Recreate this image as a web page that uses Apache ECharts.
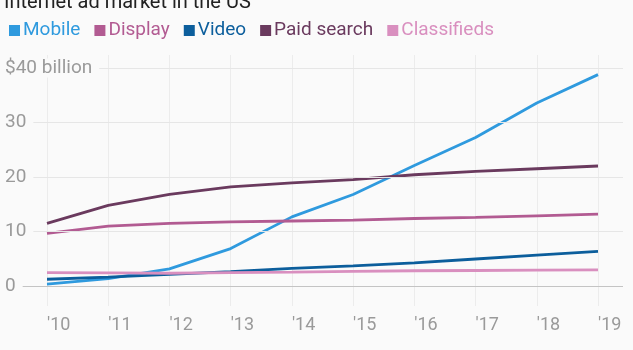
<!DOCTYPE html>
<html><head><meta charset="utf-8">
<script src="https://cdn.jsdelivr.net/npm/echarts@6/dist/echarts.min.js"></script>
<style>html,body{margin:0;padding:0;background:#fafafa;}#c{width:633px;height:350px;}</style>
</head><body><div id="c"></div>
<script>
const years = ["'10","'11","'12","'13","'14","'15","'16","'17","'18","'19"];
const mobile = [0.5, 1.5, 3.3, 7.0, 12.8, 16.9, 22.2, 27.3, 33.6, 38.8];
const display = [9.8, 11.1, 11.6, 11.9, 12.05, 12.2, 12.5, 12.7, 13.0, 13.3];
const video = [1.4, 1.8, 2.3, 2.8, 3.4, 3.85, 4.4, 5.1, 5.8, 6.5];
const paidSearch = [11.6, 14.9, 16.9, 18.3, 19.0, 19.6, 20.5, 21.1, 21.6, 22.1];
const classifieds = [2.6, 2.55, 2.5, 2.6, 2.7, 2.85, 2.95, 3.0, 3.05, 3.1];
const yTickLabels = {0:'0',10:'10',20:'20',30:'30',40:'$40 billion'};

const colors = {Mobile:'#2f9ade', Display:'#b25b92', Video:'#0c5e9c', 'Paid search':'#6a3a5e', Classifieds:'#d98fbf'};
const seriesDefs = [['Mobile',mobile],['Display',display],['Video',video],['Paid search',paidSearch],['Classifieds',classifieds]];

const chart = echarts.init(document.getElementById('c'));
chart.setOption({
  backgroundColor:'#fafafa',
  animation:false,
  textStyle:{fontFamily:'Roboto'},
  title:{text:'Internet ad market in the US', left:-1, top:-12,
    textStyle:{fontFamily:'Roboto', fontSize:20, fontWeight:'normal', color:'#222'}},
  legend:{
    left:4, top:16, itemWidth:11, itemHeight:11, itemGap:14, icon:'rect',
    data: seriesDefs.map(s=>({name:s[0], textStyle:{color:colors[s[0]]}})),
    textStyle:{fontFamily:'Roboto', fontSize:19, padding:[0,0,0,-2]}
  },
  grid:[
    {left:5, right:10, top:68, bottom:64},
    {left:47, right:35, top:55, bottom:44}
  ],
  xAxis:[
    {gridIndex:0, type:'category', data:years, show:false},
    {gridIndex:1, type:'category', data:years, boundaryGap:false,
     axisLine:{show:false}, axisTick:{show:false},
     splitLine:{show:true, lineStyle:{color:'#ececec', width:1}},
     axisLabel:{color:'#9a9a9a', fontSize:18, align:'left', margin:10, fontFamily:'Roboto'}}
  ],
  yAxis:[
    {gridIndex:0, type:'value', min:0, max:40, interval:10, z:5,
     axisLine:{show:false}, axisTick:{show:false},
     splitLine:{show:true, lineStyle:{color:['#c4c4c4','#e6e6e6','#e6e6e6','#e6e6e6','#e6e6e6'], width:1}},
     axisLabel:{inside:true, color:'#9a9a9a', fontSize:19, fontFamily:'Roboto', align:'left',
       margin:0, backgroundColor:'#fafafa', padding:[0,7,0,0],
       formatter:v=>yTickLabels[v]}},
    {gridIndex:1, type:'value', min:-3.49, max:42.39, show:false, splitLine:{show:false}}
  ],
  series: seriesDefs.map(s=>({
    name:s[0], type:'line', xAxisIndex:1, yAxisIndex:1, data:s[1],
    symbol:'none', lineStyle:{width:2.8, color:colors[s[0]]}, itemStyle:{color:colors[s[0]]}
  }))
});
</script></body></html>
